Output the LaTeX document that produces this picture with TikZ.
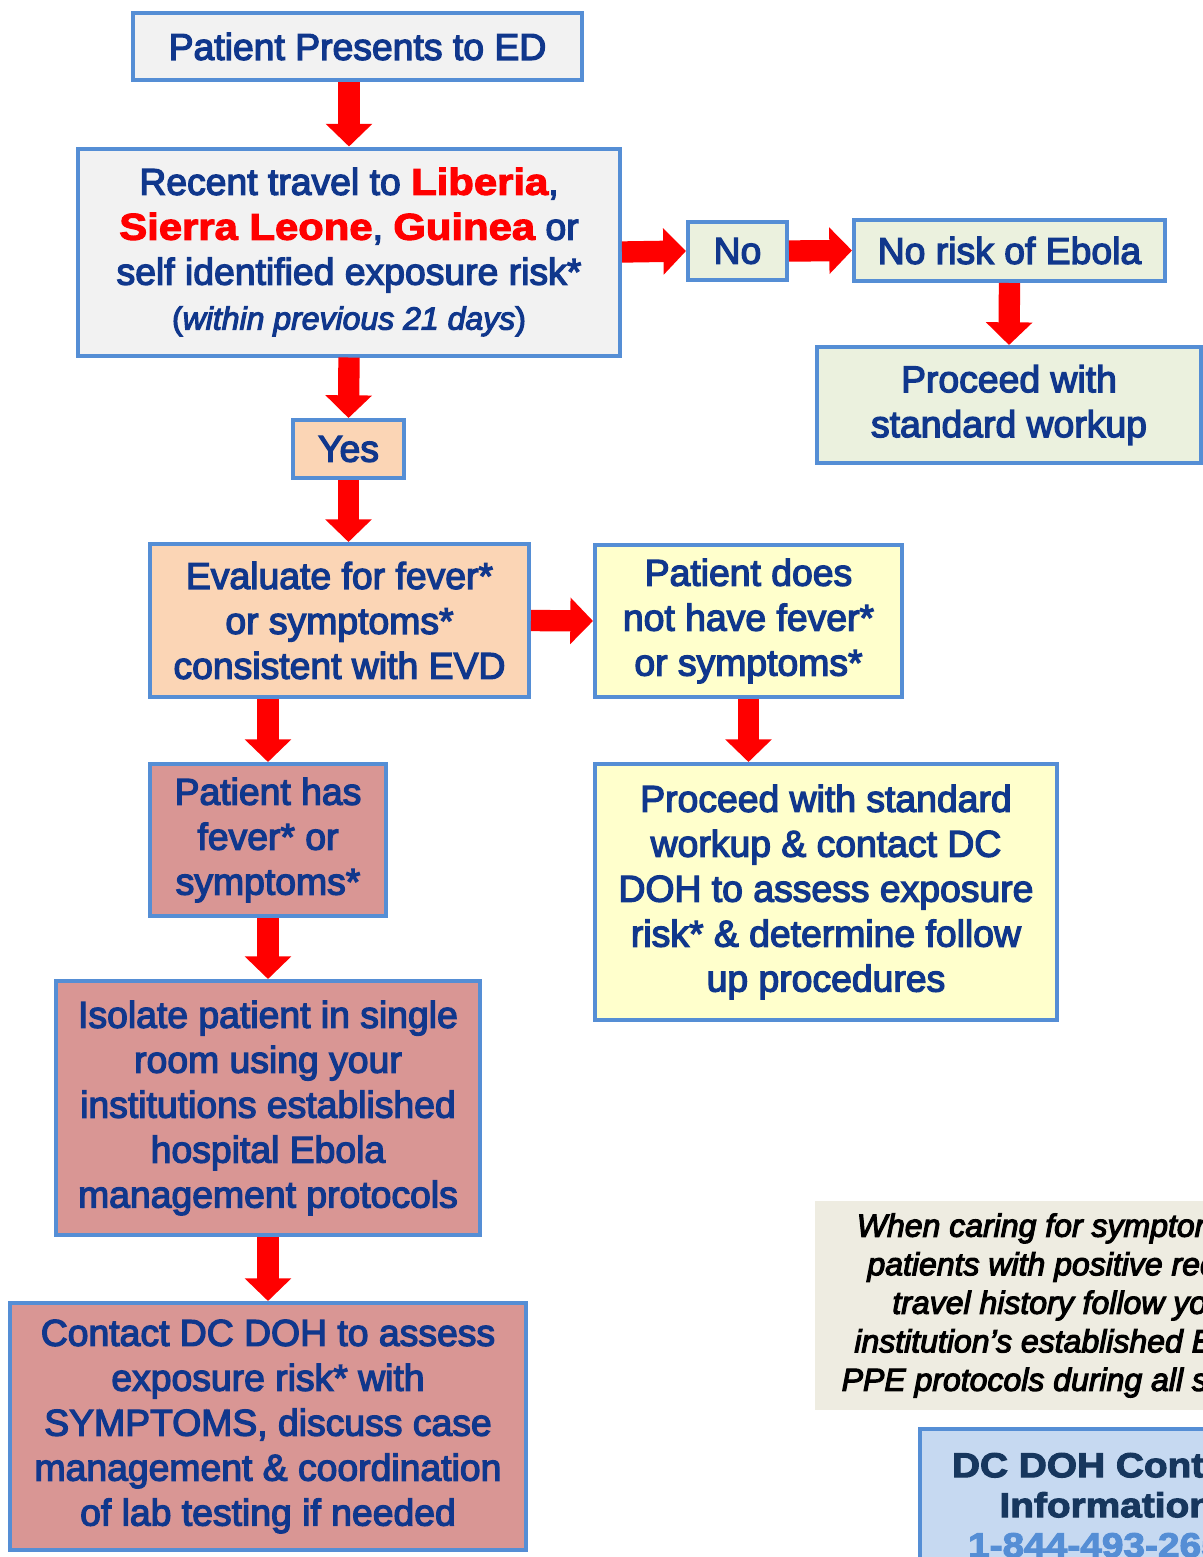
\documentclass[tikz,border=0pt]{standalone}
\usepackage{fontspec}
\setmainfont{Liberation Sans}[FakeBold=3.5]
\newfontfamily\heavyfont{Liberation Sans Bold}[FakeBold=3,FakeStretch=1.12]
\usetikzlibrary{arrows.meta,positioning,calc}

\definecolor{boxline}{RGB}{85,142,213}
\definecolor{textblue}{RGB}{16,55,140}
\definecolor{dohblue}{RGB}{23,55,94}
\definecolor{greyfill}{RGB}{242,242,242}
\definecolor{greenfill}{RGB}{235,241,222}
\definecolor{peachfill}{RGB}{251,213,181}
\definecolor{yellowfill}{RGB}{255,255,204}
\definecolor{rosefill}{RGB}{217,150,148}
\definecolor{notefill}{RGB}{238,236,225}
\definecolor{lightblue}{RGB}{198,217,241}
\newcommand{\country}[1]{{\heavyfont\color{red}#1}}

\begin{document}
\begin{tikzpicture}
  [x=0.75pt,y=-0.75pt,
   every node/.style={rectangle,draw=boxline,line width=3pt,inner sep=0pt,align=center,
     text=textblue,font=\fontsize{28}{33.7}\selectfont},
   grey/.style={fill=greyfill},
   green/.style={fill=greenfill},
   peach/.style={fill=peachfill},
   yellow/.style={fill=yellowfill},
   rose/.style={fill=rosefill},
   flowarrow/.style={draw=red,line width=16pt,-{Triangle[length=17pt,width=34pt]}}]
  \useasboundingbox (0,0) rectangle (1203,1557);

  \node[grey,minimum width=336.75pt,minimum height=50.25pt] (ed) at (357.5,46.5) {Patient Presents to ED};
  \node[grey,minimum width=406.5pt,minimum height=155.25pt] (travel) at (349,252)
    {Recent travel to \country{Liberia},\\
     \country{Sierra Leone}, \country{Guinea} or\\
     self identified exposure risk*\\
     {\fontsize{24}{36}\selectfont(\itshape within previous 21 days\upshape)}};
  \node[green,minimum width=74.25pt,minimum height=43.5pt] (no) at (737.5,251) {No};
  \node[green,minimum width=233.25pt,minimum height=45.75pt] (norisk) at (1009.5,250.5) {No risk of Ebola};
  \node[green,minimum width=288pt,minimum height=87pt] (std) at (1009,405) {Proceed with\\standard workup};
  \node[peach,minimum width=83.25pt,minimum height=43.5pt] (yes) at (348.5,449) {Yes};
  \node[peach,minimum width=284.25pt,minimum height=114.75pt] (eval) at (339.5,620.5)
    {Evaluate for fever*\\or symptoms*\\consistent with EVD};
  \node[yellow,minimum width=230.25pt,minimum height=114pt] (nofever) at (748.5,621)
    {Patient does\\not have fever*\\or symptoms*};
  \node[rose,minimum width=177pt,minimum height=114pt] (fever) at (268,840)
    {Patient has\\fever* or\\symptoms*};
  \node[yellow,minimum width=346.5pt,minimum height=192pt] (proceed) at (826,892)
    {Proceed with standard\\workup \& contact DC\\DOH to assess exposure\\risk* \& determine follow\\up procedures};
  \node[rose,minimum width=318pt,minimum height=190.5pt] (isolate) at (268,1108)
    {Isolate patient in single\\room using your\\institutions established\\hospital Ebola\\management protocols};
  \node[rose,minimum width=387pt,minimum height=185.25pt] (contact) at (268,1426.5)
    {Contact DC DOH to assess\\exposure risk* with\\SYMPTOMS, discuss case\\management \& coordination\\of lab testing if needed};

  \node[draw=none,fill=notefill,anchor=north west,inner xsep=20pt,minimum height=156.75pt,
        text=black,font=\fontsize{24}{28.9}\selectfont\itshape] (note) at (813,1199)
    {When caring for symptomatic\\patients with positive recent\\travel history follow your\\institution’s established Ebola\\PPE protocols during all stages};
  \node[fill=lightblue,anchor=north west,inner xsep=24pt,inner ysep=18pt,
        text=dohblue,font=\fontsize{26}{30}\heavyfont] (doh) at (918,1427)
    {DC DOH Contact\\Information\\\textcolor{boxline}{1-844-493-2652}};

  \foreach \from/\to in {ed.south -| travel.north/travel.north, travel.south/yes.north,
      yes.south/yes.south |- eval.north, travel.east/no.west, no.east/norisk.west,
      norisk.south/std.north, eval.east/nofever.west, eval.south -| fever.north/fever.north,
      fever.south/isolate.north, isolate.south/contact.north,
      nofever.south/nofever.south |- proceed.north}
    \draw[flowarrow] (\from) -- (\to);
\end{tikzpicture}
\end{document}
